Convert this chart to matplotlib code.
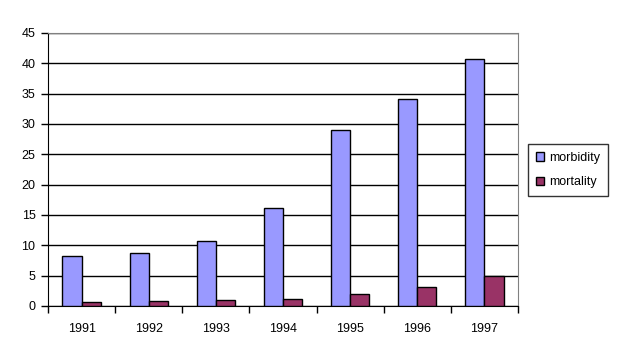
import matplotlib
matplotlib.use("Agg")
import matplotlib.pyplot as plt
import numpy as np

years = ["1991", "1992", "1993", "1994", "1995", "1996", "1997"]
morbidity = [8.2, 8.7, 10.7, 16.1, 29.0, 34.1, 40.7]
mortality = [0.6, 0.8, 1.0, 1.2, 2.0, 3.1, 4.9]

plt.rcParams["font.family"] = ["Liberation Sans", "DejaVu Sans"]
plt.rcParams["font.size"] = 9

fig = plt.figure(figsize=(6.2, 3.6), dpi=100)
ax = fig.add_axes([48 / 620, 1 - 306 / 360, 470 / 620, 273 / 360])

x = np.arange(len(years))
w = 1 / 3.5
ax.bar(x - w / 2, morbidity, w, color="#9999FF", edgecolor="black", linewidth=1, label="morbidity", zorder=3)
ax.bar(x + w / 2, mortality, w, color="#993366", edgecolor="black", linewidth=1, label="mortality", zorder=3)

ax.set_xlim(-0.5, len(years) - 0.5)
ax.set_ylim(0, 45)
ax.set_yticks(np.arange(0, 46, 5))
ax.yaxis.grid(True, color="black", linewidth=1, zorder=0)
ax.set_axisbelow(True)

ax.set_xticks(x)
ax.set_xticklabels(years)
ax.tick_params(axis="x", length=0, pad=12)
ax.set_xticks(np.arange(-0.5, len(years)), minor=True)
ax.tick_params(axis="x", which="minor", length=5, width=1, direction="out")
ax.tick_params(axis="y", length=5, width=1, direction="out", pad=4)

for s in ["top", "right"]:
    ax.spines[s].set_color("#808080")
for s in ["left", "bottom"]:
    ax.spines[s].set_color("black")

leg = ax.legend(loc="center left", bbox_to_anchor=(528 / 620, 1 - 170 / 360), bbox_transform=fig.transFigure,
                frameon=True, fancybox=False, edgecolor="black", handlelength=0.7, handleheight=0.7,
                handletextpad=0.4, labelspacing=1.0, borderpad=0.6, borderaxespad=0)
leg.get_frame().set_linewidth(1)

fig.savefig("out.png", dpi=100)
